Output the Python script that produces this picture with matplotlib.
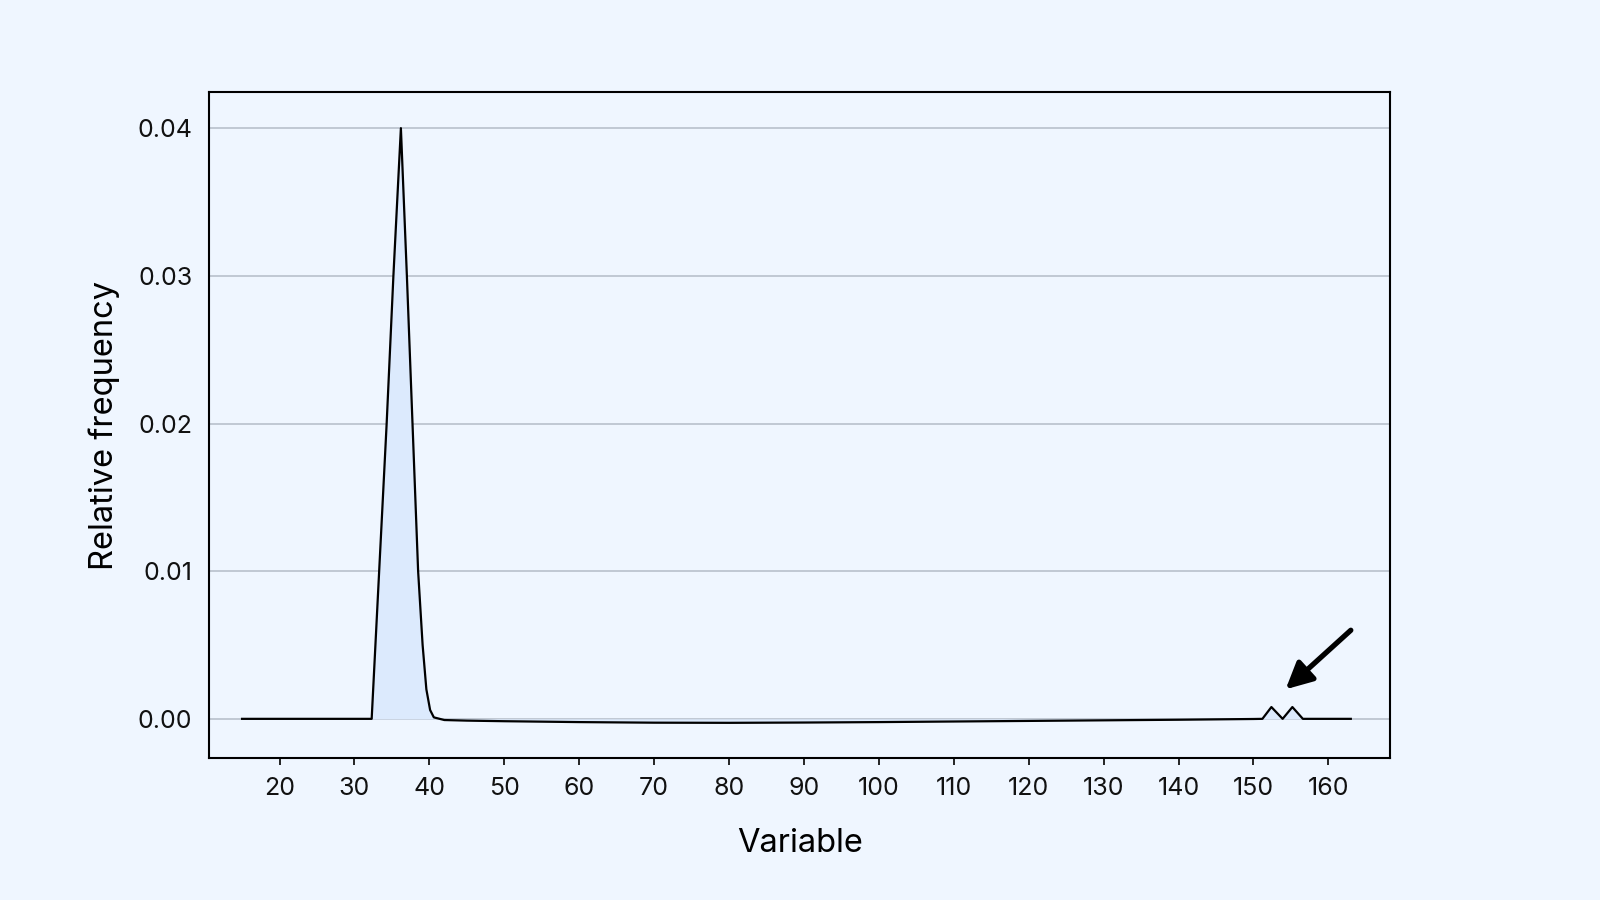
import matplotlib
matplotlib.use("Agg")
import matplotlib.pyplot as plt
import numpy as np

plt.rcParams['font.family'] = ['Inter', 'DejaVu Sans']

# Data
x_vals = [15, 32.3, 33.3, 34.3, 35.2, 36.2, 37.0, 37.75, 38.5, 39.1, 39.6, 40.1, 40.6,
          42, 45, 50, 60, 70, 80, 90, 100, 110, 120, 130, 140, 150,
          151.2, 152.4, 153.9, 155.2, 156.6, 163]
y_vals = [0.0, 0.0, 0.010, 0.020, 0.030, 0.0400, 0.030, 0.020, 0.010, 0.005, 0.002, 0.0006, 0.0001,
          -0.00008, -0.00012, -0.00016, -0.00022, -0.00026, -0.00027, -0.00025, -0.00022,
          -0.00018, -0.00014, -0.0001, -0.00006, -0.00001,
          0.0, 0.0008, 0.0, 0.0008, 0.0, 0.0]
x_ticks = list(range(20, 161, 10))
y_ticks = [0.00, 0.01, 0.02, 0.03, 0.04]
y_tick_labels = ["0.00", "0.01", "0.02", "0.03", "0.04"]
arrow_tip = (154.3, 0.0020)
arrow_tail = (163.0, 0.0060)

bg = '#EFF6FF'
fig = plt.figure(figsize=(16, 9), dpi=100, facecolor=bg)
ax = fig.add_axes([0.1306, 0.1578, 0.738, 0.74])
ax.set_facecolor(bg)

ax.fill_between(x_vals, y_vals, 0, color='#DCEAFD', linewidth=0, zorder=1)
ax.plot(x_vals, y_vals, color='black', linewidth=1.6, zorder=3)

ax.set_xlim(10.58, 168.2)
ax.set_ylim(-0.00265, 0.04245)
ax.set_xticks(x_ticks)
ax.set_yticks(y_ticks)
ax.set_yticklabels(y_tick_labels)
ax.yaxis.grid(True, color='#B4BCC8', linewidth=1.1, zorder=0)
ax.set_axisbelow(True)

for s in ax.spines.values():
    s.set_color('black')
    s.set_linewidth(1.5)

ax.tick_params(axis='x', length=5, width=1.2, color='black', labelsize=18, pad=9, labelcolor='#111111')
ax.tick_params(axis='y', length=0, labelsize=18, pad=12, labelcolor='#111111')

ax.set_xlabel('Variable', fontsize=23.5, color='black')
ax.set_ylabel('Relative frequency', fontsize=23.5, color='black')
ax.xaxis.set_label_coords(0.5004, -0.105)
ax.yaxis.set_label_coords(-0.075, 0.5)

ax.annotate('', xy=arrow_tip, xytext=arrow_tail,
            arrowprops=dict(arrowstyle='-|>', lw=3.8, color='black', mutation_scale=40,
                            shrinkA=0, shrinkB=0), zorder=5)

fig.savefig('out.png', dpi=100, facecolor=bg)
